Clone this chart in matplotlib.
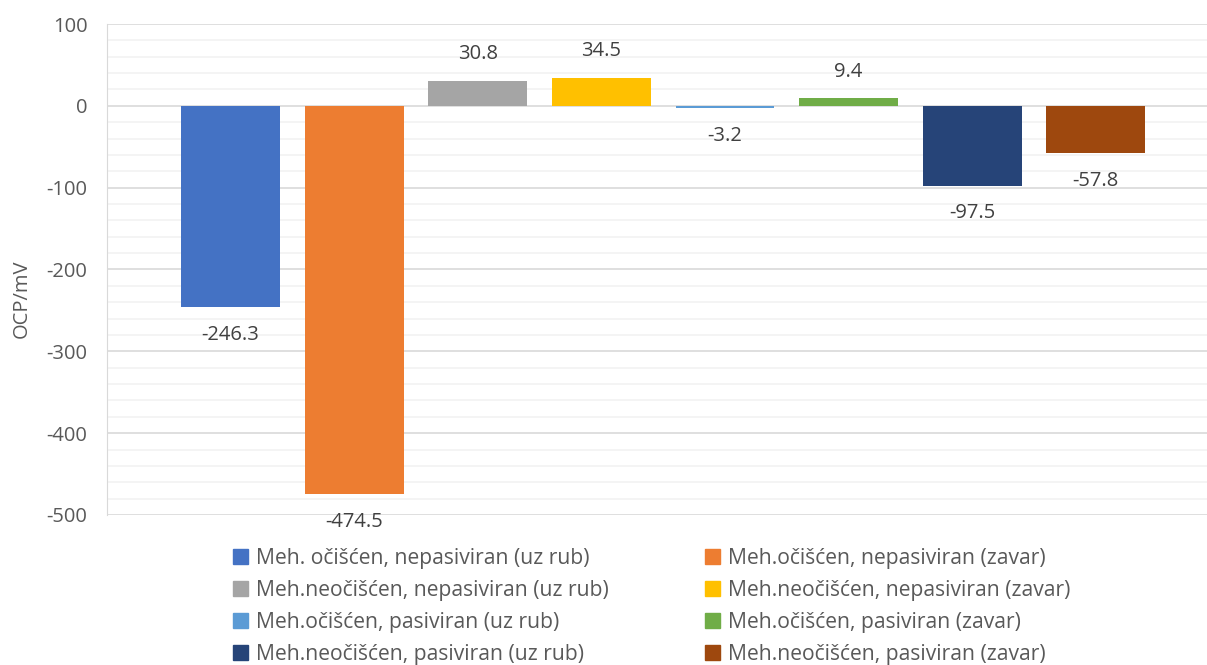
import numpy as np
import matplotlib.pyplot as plt
from matplotlib.patches import Patch

# series names and values (OCP in mV)
series = [
    'Meh. očišćen, nepasiviran (uz rub)',
    'Meh.očišćen, nepasiviran (zavar)',
    'Meh.neočišćen, nepasiviran (uz rub)',
    'Meh.neočišćen, nepasiviran (zavar)',
    'Meh.očišćen, pasiviran (uz rub)',
    'Meh.očišćen, pasiviran (zavar)',
    'Meh.neočišćen, pasiviran (uz rub)',
    'Meh.neočišćen, pasiviran (zavar)',
]
values = [-246.3, -474.5, 30.8, 34.5, -3.2, 9.4, -97.5, -57.8]
colors = ['#4472C4', '#ED7D31', '#A5A5A5', '#FFC000',
          '#5B9BD5', '#70AD47', '#264478', '#9E480E']

plt.rcParams['font.family'] = ['Open Sans', 'DejaVu Sans']
plt.rcParams['axes.unicode_minus'] = False
text_col = '#595959'
fs = 14.5

fig = plt.figure(figsize=(12.07, 6.65), dpi=100)
ax = fig.add_axes([0.0886, 0.2256, 0.9114, 0.7383])

x = np.arange(len(values))
ax.bar(x, values, width=0.8, color=colors, zorder=3)

ax.set_xlim(-1.0, 7.9)
ax.set_ylim(-500, 100)
ax.set_yticks(np.arange(-500, 101, 100))
ax.set_yticks(np.arange(-500, 101, 20), minor=True)
ax.grid(axis='y', which='major', color='#d9d9d9', lw=1.2, zorder=0)
ax.grid(axis='y', which='minor', color='#f2f2f2', lw=1.2, zorder=0)
ax.set_xticks([])
ax.tick_params(axis='y', which='both', length=0, labelsize=fs, colors=text_col, pad=14)
for s in ['top', 'right', 'bottom']:
    ax.spines[s].set_visible(False)
ax.spines['left'].set_color('#d9d9d9')
fig.text(22 / 1207, 1 - 299 / 665, 'OCP/mV', rotation=90, fontsize=fs,
         color=text_col, ha='center', va='center')

for xi, v in zip(x, values):
    off = 19 if v >= 0 else -20
    ax.annotate(f'{v:.1f}', (xi, v), xytext=(0, off), textcoords='offset points',
                ha='center', va='center', fontsize=fs, color='#404040')

handles = [Patch(color=c) for c in colors]
order = [0, 2, 4, 6, 1, 3, 5, 7]
leg = fig.legend([handles[i] for i in order], [series[i] for i in order],
                 ncol=2, loc='upper left', bbox_to_anchor=(0.193, 0.176),
                 frameon=False, fontsize=15.2, handlelength=0.7, handleheight=0.7,
                 handletextpad=0.4, columnspacing=4.55, labelspacing=0.52,
                 borderpad=0, borderaxespad=0)
for t in leg.get_texts():
    t.set_color(text_col)

fig.savefig('out.png', dpi=100)
